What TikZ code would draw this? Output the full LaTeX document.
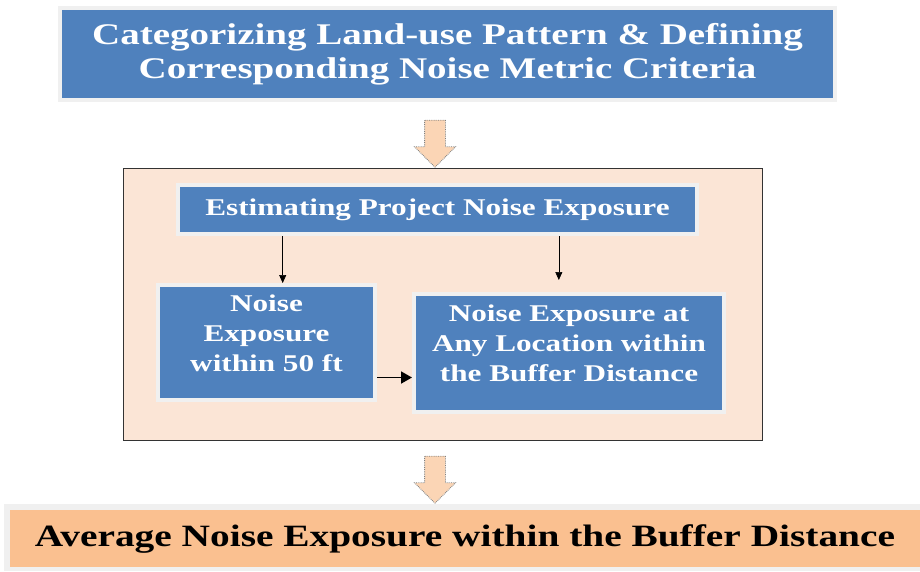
\documentclass[tikz,border=0pt]{standalone}
\usepackage{fontspec}
\setmainfont{Liberation Serif}
\newfontfamily\widefont{Liberation Serif}[FakeStretch=1.3]
\newfontfamily\widerfont{Liberation Serif}[FakeStretch=1.27]
\usetikzlibrary{shadows,shapes.arrows,calc,arrows.meta}
\definecolor{boxblue}{HTML}{4F81BD}
\definecolor{peach}{HTML}{FBE5D6}
\definecolor{arrowfill}{HTML}{FBD5B5}
\definecolor{orangebox}{HTML}{FAC090}
\definecolor{framegray}{HTML}{F0F0F0}
\begin{document}
\begin{tikzpicture}[x=1pt,y=-1pt,
  bluebox/.style={fill=boxblue, draw=framegray, line width=4pt, text=white, align=center,
    inner sep=2pt, drop shadow={shadow xshift=2pt, shadow yshift=-2pt, fill=black!40, opacity=1}},
  blockarrow/.style={single arrow, shape border rotate=270, fill=arrowfill, draw=gray, densely dotted,
    line width=0.8pt, inner sep=10pt, single arrow head extend=10pt, single arrow tip angle=90,
    minimum height=47pt},
  thinarrow/.style={-{Triangle[length=8pt,width=7pt]}, line width=0.6pt},
  thickarrow/.style={-{Triangle[length=11pt,width=12pt]}, line width=1.8pt}]
\useasboundingbox (0,0) rectangle (920,571);
\fill[white] (0,0) rectangle (920,571);

\node[bluebox, minimum width=775pt, minimum height=92pt,
  font=\widefont\bfseries\fontsize{30}{34}\selectfont] (top) at (447.5,54)
  {Categorizing Land-use Pattern \& Defining\\Corresponding Noise Metric Criteria};

\node[fill=peach, draw=black!80, line width=1pt, minimum width=639pt, minimum height=272pt]
  (cont) at (442.5,304) {};

\node[blockarrow] (a1) at (435,138.5) {};

\node[bluebox, minimum width=519pt, minimum height=49pt,
  font=\widefont\bfseries\fontsize{24}{28}\selectfont] (est) at (437.5,209.5)
  {Estimating Project Noise Exposure};

\node[bluebox, minimum width=217pt, minimum height=115pt, text depth=18pt,
  font=\widefont\bfseries\fontsize{24}{30}\selectfont] (left) at (266.5,342.5)
  {Noise\\Exposure\\within 50 ft};

\node[bluebox, minimum width=310pt, minimum height=118pt, text depth=20pt,
  font=\widefont\bfseries\fontsize{24}{30}\selectfont] (right) at (569,353)
  {Noise Exposure at\\Any Location within\\the Buffer Distance};

\coordinate (s1) at ($(est.south west)!0.204!(est.south east)$);
\coordinate (s2) at ($(est.south west)!0.732!(est.south east)$);
\draw[thinarrow] (s1) -- (s1 |- left.north);
\draw[thinarrow] (s2) -- ($(s2 |- right.north)+(0,-12)$);
\coordinate (h1) at ($(left.east)+(0,35)$);
\draw[thickarrow] (h1) -- (right.west |- h1);

\node[blockarrow] (a2) at (435,474.5) {};

\fill[framegray] (4,504) rectangle (920,571);
\node[fill=orangebox, minimum width=910pt, minimum height=57pt, inner sep=0pt,
  font=\widerfont\bfseries\fontsize{31}{34}\selectfont] (bot) at (465,538.5)
  {Average Noise Exposure within the Buffer Distance};
\end{tikzpicture}
\end{document}
